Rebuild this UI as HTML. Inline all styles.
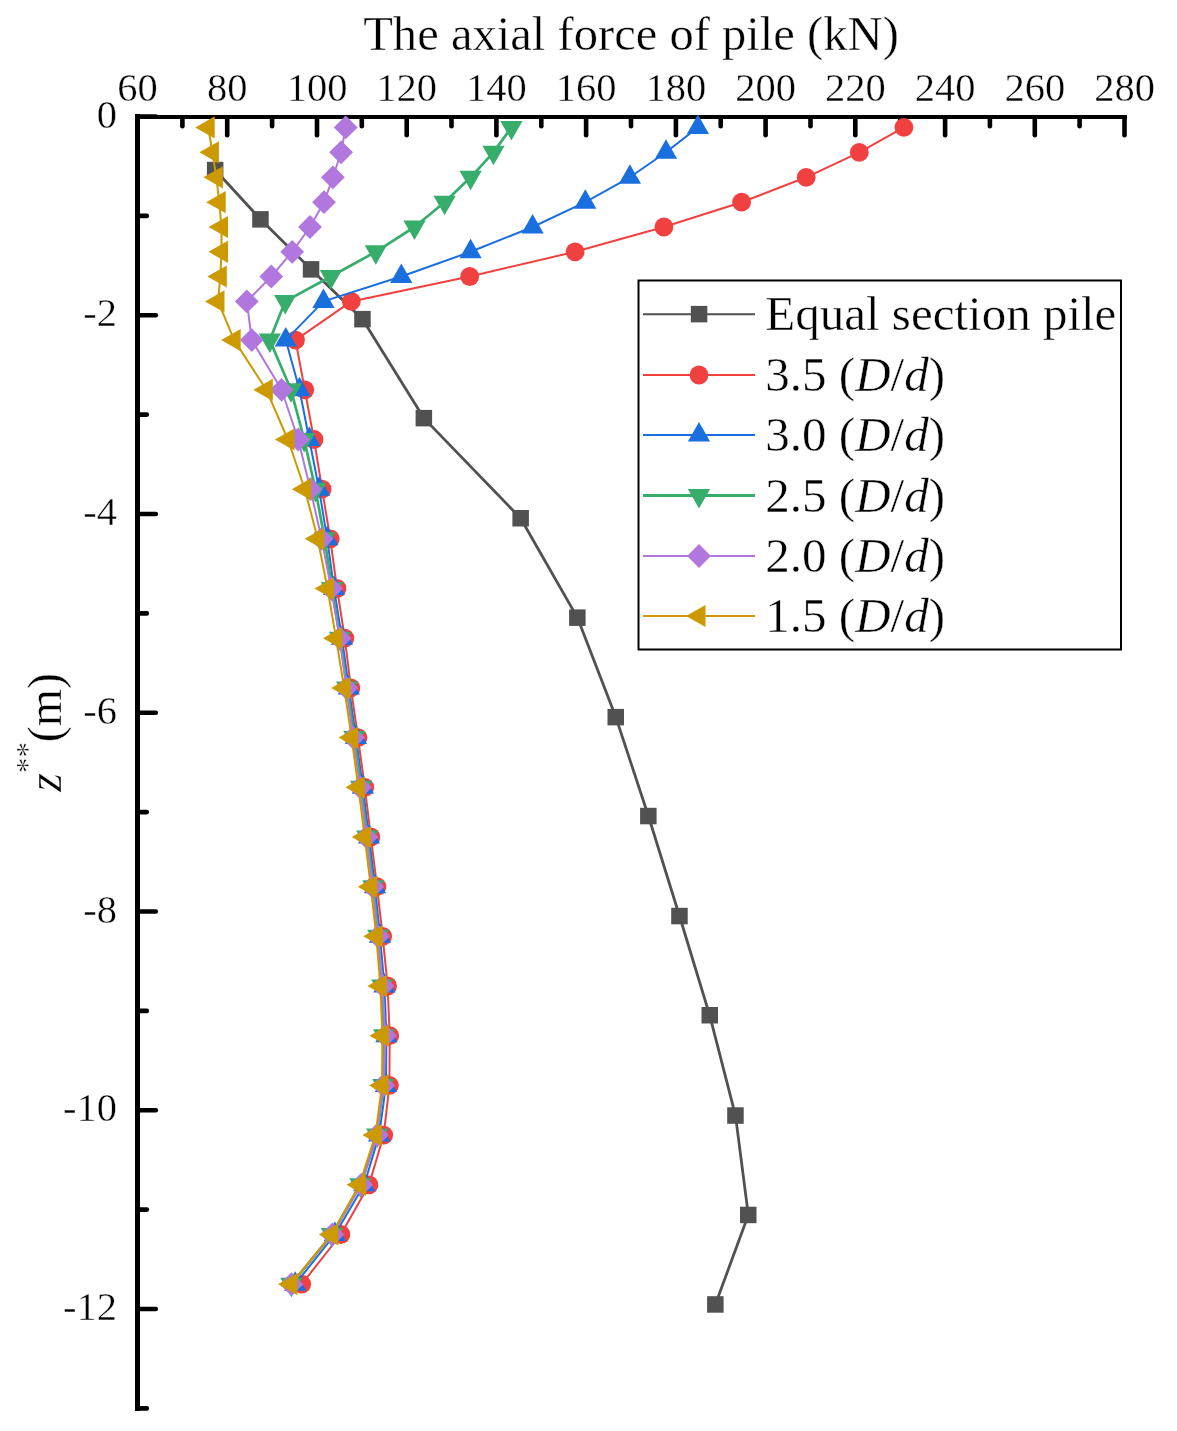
<!DOCTYPE html>
<html><head><meta charset="utf-8"><title>chart</title>
<style>html,body{margin:0;padding:0;background:#fff}svg{display:block;will-change:transform}text{font-family:"Liberation Serif",serif;fill:#000;stroke:#fff;stroke-width:0.4px}</style></head>
<body>
<svg width="1177" height="1431" viewBox="0 0 1177 1431">
<rect width="1177" height="1431" fill="#fff"/>
<g fill="#000" stroke="none">
<rect x="135" y="115" width="992" height="4"/>
<rect x="135" y="114" width="5" height="1297"/>
</g>
<g stroke="#000" stroke-width="4.6" stroke-linecap="round">
<line x1="137.5" y1="118" x2="137.5" y2="135.3"/>
<line x1="182.4" y1="118" x2="182.4" y2="126.3"/>
<line x1="227.2" y1="118" x2="227.2" y2="135.3"/>
<line x1="272.1" y1="118" x2="272.1" y2="126.3"/>
<line x1="317.0" y1="118" x2="317.0" y2="135.3"/>
<line x1="361.8" y1="118" x2="361.8" y2="126.3"/>
<line x1="406.7" y1="118" x2="406.7" y2="135.3"/>
<line x1="451.5" y1="118" x2="451.5" y2="126.3"/>
<line x1="496.4" y1="118" x2="496.4" y2="135.3"/>
<line x1="541.3" y1="118" x2="541.3" y2="126.3"/>
<line x1="586.1" y1="118" x2="586.1" y2="135.3"/>
<line x1="631.0" y1="118" x2="631.0" y2="126.3"/>
<line x1="675.9" y1="118" x2="675.9" y2="135.3"/>
<line x1="720.7" y1="118" x2="720.7" y2="126.3"/>
<line x1="765.6" y1="118" x2="765.6" y2="135.3"/>
<line x1="810.5" y1="118" x2="810.5" y2="126.3"/>
<line x1="855.3" y1="118" x2="855.3" y2="135.3"/>
<line x1="900.2" y1="118" x2="900.2" y2="126.3"/>
<line x1="945.1" y1="118" x2="945.1" y2="135.3"/>
<line x1="989.9" y1="118" x2="989.9" y2="126.3"/>
<line x1="1034.8" y1="118" x2="1034.8" y2="135.3"/>
<line x1="1079.6" y1="118" x2="1079.6" y2="126.3"/>
<line x1="1124.5" y1="118" x2="1124.5" y2="135.3"/>
<line x1="138.5" y1="116.5" x2="155.8" y2="116.5"/>
<line x1="138.5" y1="215.9" x2="146.8" y2="215.9"/>
<line x1="138.5" y1="315.2" x2="155.8" y2="315.2"/>
<line x1="138.5" y1="414.6" x2="146.8" y2="414.6"/>
<line x1="138.5" y1="514.0" x2="155.8" y2="514.0"/>
<line x1="138.5" y1="613.4" x2="146.8" y2="613.4"/>
<line x1="138.5" y1="712.8" x2="155.8" y2="712.8"/>
<line x1="138.5" y1="812.1" x2="146.8" y2="812.1"/>
<line x1="138.5" y1="911.5" x2="155.8" y2="911.5"/>
<line x1="138.5" y1="1010.9" x2="146.8" y2="1010.9"/>
<line x1="138.5" y1="1110.2" x2="155.8" y2="1110.2"/>
<line x1="138.5" y1="1209.6" x2="146.8" y2="1209.6"/>
<line x1="138.5" y1="1309.0" x2="155.8" y2="1309.0"/>
<line x1="138.5" y1="1408.4" x2="146.8" y2="1408.4"/>
</g>
<g>
<polyline fill="none" stroke="#515151" stroke-width="2.8" stroke-linejoin="round" points="215.2,170.0 260.5,219.3 311.0,269.3 362.5,319.2 423.8,418.1 520.6,518.3 577.4,617.6 615.8,717.1 648.4,816.0 679.5,916.0 709.7,1015.3 735.5,1115.6 748.3,1214.9 715.4,1304.5"/>
<rect x="206.9" y="161.8" width="16.5" height="16.5" fill="#515151"/>
<rect x="252.2" y="211.1" width="16.5" height="16.5" fill="#515151"/>
<rect x="302.8" y="261.1" width="16.5" height="16.5" fill="#515151"/>
<rect x="354.2" y="310.9" width="16.5" height="16.5" fill="#515151"/>
<rect x="415.6" y="409.9" width="16.5" height="16.5" fill="#515151"/>
<rect x="512.4" y="510.0" width="16.5" height="16.5" fill="#515151"/>
<rect x="569.1" y="609.4" width="16.5" height="16.5" fill="#515151"/>
<rect x="607.5" y="708.9" width="16.5" height="16.5" fill="#515151"/>
<rect x="640.1" y="807.8" width="16.5" height="16.5" fill="#515151"/>
<rect x="671.2" y="907.8" width="16.5" height="16.5" fill="#515151"/>
<rect x="701.5" y="1007.0" width="16.5" height="16.5" fill="#515151"/>
<rect x="727.2" y="1107.3" width="16.5" height="16.5" fill="#515151"/>
<rect x="740.0" y="1206.7" width="16.5" height="16.5" fill="#515151"/>
<rect x="707.1" y="1296.2" width="16.5" height="16.5" fill="#515151"/>
</g>
<g>
<polyline fill="none" stroke="#F14040" stroke-width="2" stroke-linejoin="round" points="903.9,127.4 859.3,152.3 806.2,177.3 741.6,202.2 663.9,227.0 575.1,251.8 469.7,276.5 351.3,301.4 295.5,340.1 304.8,389.8 314.0,439.5 322.1,489.2 330.3,538.8 337.0,588.5 344.8,638.2 350.9,687.9 358.0,737.6 364.8,787.3 370.9,837.0 377.0,886.7 382.7,936.3 387.6,986.0 389.7,1035.7 389.4,1085.4 383.7,1135.1 369.0,1184.8 340.9,1234.5 301.7,1284.2"/>
<circle cx="903.9" cy="127.4" r="9.4" fill="#F14040"/>
<circle cx="859.3" cy="152.3" r="9.4" fill="#F14040"/>
<circle cx="806.2" cy="177.3" r="9.4" fill="#F14040"/>
<circle cx="741.6" cy="202.2" r="9.4" fill="#F14040"/>
<circle cx="663.9" cy="227.0" r="9.4" fill="#F14040"/>
<circle cx="575.1" cy="251.8" r="9.4" fill="#F14040"/>
<circle cx="469.7" cy="276.5" r="9.4" fill="#F14040"/>
<circle cx="351.3" cy="301.4" r="9.4" fill="#F14040"/>
<circle cx="295.5" cy="340.1" r="9.4" fill="#F14040"/>
<circle cx="304.8" cy="389.8" r="9.4" fill="#F14040"/>
<circle cx="314.0" cy="439.5" r="9.4" fill="#F14040"/>
<circle cx="322.1" cy="489.2" r="9.4" fill="#F14040"/>
<circle cx="330.3" cy="538.8" r="9.4" fill="#F14040"/>
<circle cx="337.0" cy="588.5" r="9.4" fill="#F14040"/>
<circle cx="344.8" cy="638.2" r="9.4" fill="#F14040"/>
<circle cx="350.9" cy="687.9" r="9.4" fill="#F14040"/>
<circle cx="358.0" cy="737.6" r="9.4" fill="#F14040"/>
<circle cx="364.8" cy="787.3" r="9.4" fill="#F14040"/>
<circle cx="370.9" cy="837.0" r="9.4" fill="#F14040"/>
<circle cx="377.0" cy="886.7" r="9.4" fill="#F14040"/>
<circle cx="382.7" cy="936.3" r="9.4" fill="#F14040"/>
<circle cx="387.6" cy="986.0" r="9.4" fill="#F14040"/>
<circle cx="389.7" cy="1035.7" r="9.4" fill="#F14040"/>
<circle cx="389.4" cy="1085.4" r="9.4" fill="#F14040"/>
<circle cx="383.7" cy="1135.1" r="9.4" fill="#F14040"/>
<circle cx="369.0" cy="1184.8" r="9.4" fill="#F14040"/>
<circle cx="340.9" cy="1234.5" r="9.4" fill="#F14040"/>
<circle cx="301.7" cy="1284.2" r="9.4" fill="#F14040"/>
</g>
<g>
<polyline fill="none" stroke="#1A6FDF" stroke-width="2" stroke-linejoin="round" points="697.9,127.4 666.0,152.3 629.9,177.3 585.3,202.2 532.6,227.0 470.6,251.8 401.3,276.5 323.5,301.4 285.8,340.1 299.5,389.8 309.3,439.5 319.1,489.2 327.2,538.8 334.0,588.5 342.0,638.2 348.8,687.9 356.0,737.6 362.8,787.3 369.0,837.0 375.0,886.7 380.0,936.3 384.4,986.0 386.4,1035.7 386.0,1085.4 379.1,1135.1 364.2,1184.8 334.9,1234.5 295.2,1284.2"/>
<polygon fill="#1A6FDF" points="697.9,114.4 686.8,133.9 709.0,133.9"/>
<polygon fill="#1A6FDF" points="666.0,139.3 654.9,158.8 677.1,158.8"/>
<polygon fill="#1A6FDF" points="629.9,164.3 618.8,183.8 641.0,183.8"/>
<polygon fill="#1A6FDF" points="585.3,189.2 574.2,208.7 596.4,208.7"/>
<polygon fill="#1A6FDF" points="532.6,214.0 521.5,233.5 543.7,233.5"/>
<polygon fill="#1A6FDF" points="470.6,238.8 459.5,258.3 481.7,258.3"/>
<polygon fill="#1A6FDF" points="401.3,263.5 390.2,283.0 412.4,283.0"/>
<polygon fill="#1A6FDF" points="323.5,288.4 312.4,307.9 334.6,307.9"/>
<polygon fill="#1A6FDF" points="285.8,327.1 274.7,346.6 296.9,346.6"/>
<polygon fill="#1A6FDF" points="299.5,376.8 288.4,396.3 310.6,396.3"/>
<polygon fill="#1A6FDF" points="309.3,426.5 298.2,446.0 320.4,446.0"/>
<polygon fill="#1A6FDF" points="319.1,476.2 308.0,495.7 330.2,495.7"/>
<polygon fill="#1A6FDF" points="327.2,525.8 316.1,545.3 338.3,545.3"/>
<polygon fill="#1A6FDF" points="334.0,575.5 322.9,595.0 345.1,595.0"/>
<polygon fill="#1A6FDF" points="342.0,625.2 330.9,644.7 353.1,644.7"/>
<polygon fill="#1A6FDF" points="348.8,674.9 337.7,694.4 359.9,694.4"/>
<polygon fill="#1A6FDF" points="356.0,724.6 344.9,744.1 367.1,744.1"/>
<polygon fill="#1A6FDF" points="362.8,774.3 351.7,793.8 373.9,793.8"/>
<polygon fill="#1A6FDF" points="369.0,824.0 357.9,843.5 380.1,843.5"/>
<polygon fill="#1A6FDF" points="375.0,873.7 363.9,893.2 386.1,893.2"/>
<polygon fill="#1A6FDF" points="380.0,923.3 368.9,942.8 391.1,942.8"/>
<polygon fill="#1A6FDF" points="384.4,973.0 373.3,992.5 395.5,992.5"/>
<polygon fill="#1A6FDF" points="386.4,1022.7 375.3,1042.2 397.5,1042.2"/>
<polygon fill="#1A6FDF" points="386.0,1072.4 374.9,1091.9 397.1,1091.9"/>
<polygon fill="#1A6FDF" points="379.1,1122.1 368.0,1141.6 390.2,1141.6"/>
<polygon fill="#1A6FDF" points="364.2,1171.8 353.1,1191.3 375.4,1191.3"/>
<polygon fill="#1A6FDF" points="334.9,1221.5 323.8,1241.0 346.0,1241.0"/>
<polygon fill="#1A6FDF" points="295.2,1271.2 284.1,1290.7 306.3,1290.7"/>
</g>
<g>
<polyline fill="none" stroke="#37AD6B" stroke-width="2.7" stroke-linejoin="round" points="511.4,127.4 493.5,152.3 470.6,177.3 444.6,202.2 414.5,227.0 375.8,251.8 330.9,276.5 285.2,301.4 269.8,340.1 291.0,389.8 304.2,439.5 315.4,489.2 324.6,538.8 332.0,588.5 340.0,638.2 347.1,687.9 354.4,737.6 361.1,787.3 367.2,837.0 373.3,886.7 378.2,936.3 382.3,986.0 384.1,1035.7 383.3,1085.4 377.2,1135.1 360.4,1184.8 331.8,1234.5 291.4,1284.2"/>
<polygon fill="#37AD6B" points="511.4,140.4 500.3,120.9 522.5,120.9"/>
<polygon fill="#37AD6B" points="493.5,165.3 482.4,145.8 504.6,145.8"/>
<polygon fill="#37AD6B" points="470.6,190.3 459.5,170.8 481.7,170.8"/>
<polygon fill="#37AD6B" points="444.6,215.2 433.5,195.7 455.7,195.7"/>
<polygon fill="#37AD6B" points="414.5,240.0 403.4,220.5 425.6,220.5"/>
<polygon fill="#37AD6B" points="375.8,264.8 364.7,245.3 386.9,245.3"/>
<polygon fill="#37AD6B" points="330.9,289.5 319.8,270.0 342.0,270.0"/>
<polygon fill="#37AD6B" points="285.2,314.4 274.1,294.9 296.3,294.9"/>
<polygon fill="#37AD6B" points="269.8,353.1 258.7,333.6 280.9,333.6"/>
<polygon fill="#37AD6B" points="291.0,402.8 279.9,383.3 302.1,383.3"/>
<polygon fill="#37AD6B" points="304.2,452.5 293.1,433.0 315.3,433.0"/>
<polygon fill="#37AD6B" points="315.4,502.2 304.3,482.7 326.5,482.7"/>
<polygon fill="#37AD6B" points="324.6,551.8 313.5,532.3 335.7,532.3"/>
<polygon fill="#37AD6B" points="332.0,601.5 320.9,582.0 343.1,582.0"/>
<polygon fill="#37AD6B" points="340.0,651.2 328.9,631.7 351.1,631.7"/>
<polygon fill="#37AD6B" points="347.1,700.9 336.0,681.4 358.2,681.4"/>
<polygon fill="#37AD6B" points="354.4,750.6 343.3,731.1 365.5,731.1"/>
<polygon fill="#37AD6B" points="361.1,800.3 350.0,780.8 372.2,780.8"/>
<polygon fill="#37AD6B" points="367.2,850.0 356.1,830.5 378.3,830.5"/>
<polygon fill="#37AD6B" points="373.3,899.7 362.2,880.2 384.4,880.2"/>
<polygon fill="#37AD6B" points="378.2,949.3 367.1,929.8 389.3,929.8"/>
<polygon fill="#37AD6B" points="382.3,999.0 371.2,979.5 393.4,979.5"/>
<polygon fill="#37AD6B" points="384.1,1048.7 373.0,1029.2 395.2,1029.2"/>
<polygon fill="#37AD6B" points="383.3,1098.4 372.2,1078.9 394.4,1078.9"/>
<polygon fill="#37AD6B" points="377.2,1148.1 366.1,1128.6 388.3,1128.6"/>
<polygon fill="#37AD6B" points="360.4,1197.8 349.3,1178.3 371.6,1178.3"/>
<polygon fill="#37AD6B" points="331.8,1247.5 320.7,1228.0 342.9,1228.0"/>
<polygon fill="#37AD6B" points="291.4,1297.2 280.3,1277.7 302.5,1277.7"/>
</g>
<g>
<polyline fill="none" stroke="#B177DE" stroke-width="2" stroke-linejoin="round" points="345.7,127.4 341.1,152.3 332.9,177.3 324.0,202.2 310.0,227.0 292.2,251.8 271.3,276.5 246.8,301.4 251.8,340.1 281.6,389.8 298.2,439.5 310.4,489.2 321.6,538.8 331.1,588.5 339.7,638.2 346.4,687.9 353.1,737.6 360.1,787.3 366.4,837.0 372.5,886.7 378.0,936.3 382.7,986.0 385.2,1035.7 383.3,1085.4 377.0,1135.1 361.2,1184.8 332.4,1234.5 291.4,1284.2"/>
<polygon fill="#B177DE" points="345.7,115.5 357.6,127.4 345.7,139.3 333.8,127.4"/>
<polygon fill="#B177DE" points="341.1,140.4 353.0,152.3 341.1,164.2 329.2,152.3"/>
<polygon fill="#B177DE" points="332.9,165.4 344.8,177.3 332.9,189.2 321.0,177.3"/>
<polygon fill="#B177DE" points="324.0,190.3 335.9,202.2 324.0,214.1 312.1,202.2"/>
<polygon fill="#B177DE" points="310.0,215.1 321.9,227.0 310.0,238.9 298.1,227.0"/>
<polygon fill="#B177DE" points="292.2,239.9 304.1,251.8 292.2,263.7 280.3,251.8"/>
<polygon fill="#B177DE" points="271.3,264.6 283.2,276.5 271.3,288.4 259.4,276.5"/>
<polygon fill="#B177DE" points="246.8,289.5 258.7,301.4 246.8,313.3 234.9,301.4"/>
<polygon fill="#B177DE" points="251.8,328.2 263.7,340.1 251.8,352.0 239.9,340.1"/>
<polygon fill="#B177DE" points="281.6,377.9 293.5,389.8 281.6,401.7 269.7,389.8"/>
<polygon fill="#B177DE" points="298.2,427.6 310.1,439.5 298.2,451.4 286.3,439.5"/>
<polygon fill="#B177DE" points="310.4,477.3 322.3,489.2 310.4,501.1 298.5,489.2"/>
<polygon fill="#B177DE" points="321.6,526.9 333.5,538.8 321.6,550.7 309.7,538.8"/>
<polygon fill="#B177DE" points="331.1,576.6 343.0,588.5 331.1,600.4 319.2,588.5"/>
<polygon fill="#B177DE" points="339.7,626.3 351.6,638.2 339.7,650.1 327.8,638.2"/>
<polygon fill="#B177DE" points="346.4,676.0 358.3,687.9 346.4,699.8 334.5,687.9"/>
<polygon fill="#B177DE" points="353.1,725.7 365.0,737.6 353.1,749.5 341.2,737.6"/>
<polygon fill="#B177DE" points="360.1,775.4 372.0,787.3 360.1,799.2 348.2,787.3"/>
<polygon fill="#B177DE" points="366.4,825.1 378.3,837.0 366.4,848.9 354.5,837.0"/>
<polygon fill="#B177DE" points="372.5,874.8 384.4,886.7 372.5,898.6 360.6,886.7"/>
<polygon fill="#B177DE" points="378.0,924.4 389.9,936.3 378.0,948.2 366.1,936.3"/>
<polygon fill="#B177DE" points="382.7,974.1 394.6,986.0 382.7,997.9 370.8,986.0"/>
<polygon fill="#B177DE" points="385.2,1023.8 397.1,1035.7 385.2,1047.6 373.3,1035.7"/>
<polygon fill="#B177DE" points="383.3,1073.5 395.2,1085.4 383.3,1097.3 371.4,1085.4"/>
<polygon fill="#B177DE" points="377.0,1123.2 388.9,1135.1 377.0,1147.0 365.1,1135.1"/>
<polygon fill="#B177DE" points="361.2,1172.9 373.1,1184.8 361.2,1196.7 349.3,1184.8"/>
<polygon fill="#B177DE" points="332.4,1222.6 344.3,1234.5 332.4,1246.4 320.5,1234.5"/>
<polygon fill="#B177DE" points="291.4,1272.3 303.3,1284.2 291.4,1296.1 279.5,1284.2"/>
</g>
<g>
<polyline fill="none" stroke="#CC9900" stroke-width="2" stroke-linejoin="round" points="208.2,127.4 212.4,152.3 216.4,177.3 219.2,202.2 221.5,227.0 221.5,251.8 220.3,276.5 218.0,301.4 234.2,340.1 266.3,389.8 287.9,439.5 304.8,489.2 317.7,538.8 327.5,588.5 336.0,638.2 344.2,687.9 351.6,737.6 358.4,787.3 364.7,837.0 370.8,886.7 376.3,936.3 380.4,986.0 382.4,1035.7 382.0,1085.4 375.4,1135.1 359.5,1184.8 331.8,1234.5 291.0,1284.2"/>
<polygon fill="#CC9900" points="195.2,127.4 214.7,116.3 214.7,138.5"/>
<polygon fill="#CC9900" points="199.4,152.3 218.9,141.2 218.9,163.4"/>
<polygon fill="#CC9900" points="203.4,177.3 222.9,166.2 222.9,188.4"/>
<polygon fill="#CC9900" points="206.2,202.2 225.7,191.1 225.7,213.3"/>
<polygon fill="#CC9900" points="208.5,227.0 228.0,215.9 228.0,238.1"/>
<polygon fill="#CC9900" points="208.5,251.8 228.0,240.7 228.0,262.9"/>
<polygon fill="#CC9900" points="207.3,276.5 226.8,265.4 226.8,287.6"/>
<polygon fill="#CC9900" points="205.0,301.4 224.5,290.3 224.5,312.5"/>
<polygon fill="#CC9900" points="221.2,340.1 240.7,329.0 240.7,351.2"/>
<polygon fill="#CC9900" points="253.3,389.8 272.8,378.7 272.8,400.9"/>
<polygon fill="#CC9900" points="274.9,439.5 294.4,428.4 294.4,450.6"/>
<polygon fill="#CC9900" points="291.8,489.2 311.3,478.1 311.3,500.3"/>
<polygon fill="#CC9900" points="304.7,538.8 324.2,527.7 324.2,549.9"/>
<polygon fill="#CC9900" points="314.5,588.5 334.0,577.4 334.0,599.6"/>
<polygon fill="#CC9900" points="323.0,638.2 342.5,627.1 342.5,649.3"/>
<polygon fill="#CC9900" points="331.2,687.9 350.7,676.8 350.7,699.0"/>
<polygon fill="#CC9900" points="338.6,737.6 358.1,726.5 358.1,748.7"/>
<polygon fill="#CC9900" points="345.4,787.3 364.9,776.2 364.9,798.4"/>
<polygon fill="#CC9900" points="351.7,837.0 371.2,825.9 371.2,848.1"/>
<polygon fill="#CC9900" points="357.8,886.7 377.3,875.6 377.3,897.8"/>
<polygon fill="#CC9900" points="363.3,936.3 382.8,925.2 382.8,947.4"/>
<polygon fill="#CC9900" points="367.4,986.0 386.9,974.9 386.9,997.1"/>
<polygon fill="#CC9900" points="369.4,1035.7 388.9,1024.6 388.9,1046.8"/>
<polygon fill="#CC9900" points="369.0,1085.4 388.5,1074.3 388.5,1096.5"/>
<polygon fill="#CC9900" points="362.4,1135.1 381.9,1124.0 381.9,1146.2"/>
<polygon fill="#CC9900" points="346.5,1184.8 366.0,1173.7 366.0,1195.9"/>
<polygon fill="#CC9900" points="318.8,1234.5 338.3,1223.4 338.3,1245.6"/>
<polygon fill="#CC9900" points="278.0,1284.2 297.5,1273.1 297.5,1295.3"/>
</g>
<g font-size="40.5" text-anchor="middle">
<text x="137.5" y="101">60</text>
<text x="227.2" y="101">80</text>
<text x="317.0" y="101">100</text>
<text x="406.7" y="101">120</text>
<text x="496.4" y="101">140</text>
<text x="586.1" y="101">160</text>
<text x="675.9" y="101">180</text>
<text x="765.6" y="101">200</text>
<text x="855.3" y="101">220</text>
<text x="945.1" y="101">240</text>
<text x="1034.8" y="101">260</text>
<text x="1124.5" y="101">280</text>
</g>
<g font-size="40.5" text-anchor="end">
<text x="117" y="127.5">0</text>
<text x="117" y="326.2">-2</text>
<text x="117" y="525.0">-4</text>
<text x="117" y="723.8">-6</text>
<text x="117" y="922.5">-8</text>
<text x="117" y="1121.2">-10</text>
<text x="117" y="1320.0">-12</text>
</g>
<text x="631" y="50" font-size="48.6" text-anchor="middle">The axial force of pile (kN)</text>
<text transform="translate(60.5,791.7) rotate(-90)" font-size="48"><tspan font-style="italic">z</tspan><tspan font-size="31" dy="-22.5">**</tspan><tspan dy="22.5" dx="-0.2">(m)</tspan></text>
<rect x="638.5" y="280.5" width="482.5" height="369" fill="#fff" stroke="#000" stroke-width="2"/>
<line x1="643" y1="314.2" x2="755" y2="314.2" stroke="#515151" stroke-width="2"/>
<rect x="690.8" y="305.9" width="16.5" height="16.5" fill="#515151"/>
<text x="765.3" y="330.2" font-size="49">Equal section pile</text>
<line x1="643" y1="375.0" x2="755" y2="375.0" stroke="#F14040" stroke-width="2"/>
<circle cx="699.0" cy="375.0" r="9.4" fill="#F14040"/>
<text x="765.3" y="391.0" font-size="49">3.5 (<tspan font-style="italic">D</tspan>/<tspan font-style="italic">d</tspan>)</text>
<line x1="643" y1="435.0" x2="755" y2="435.0" stroke="#1A6FDF" stroke-width="2"/>
<polygon fill="#1A6FDF" points="699.0,422.0 687.9,441.5 710.1,441.5"/>
<text x="765.3" y="451.0" font-size="49">3.0 (<tspan font-style="italic">D</tspan>/<tspan font-style="italic">d</tspan>)</text>
<line x1="643" y1="495.5" x2="755" y2="495.5" stroke="#37AD6B" stroke-width="3"/>
<polygon fill="#37AD6B" points="699.0,508.5 687.9,489.0 710.1,489.0"/>
<text x="765.3" y="511.5" font-size="49">2.5 (<tspan font-style="italic">D</tspan>/<tspan font-style="italic">d</tspan>)</text>
<line x1="643" y1="556.0" x2="755" y2="556.0" stroke="#B177DE" stroke-width="2"/>
<polygon fill="#B177DE" points="699.0,544.1 710.9,556.0 699.0,567.9 687.1,556.0"/>
<text x="765.3" y="572.0" font-size="49">2.0 (<tspan font-style="italic">D</tspan>/<tspan font-style="italic">d</tspan>)</text>
<line x1="643" y1="616.0" x2="755" y2="616.0" stroke="#CC9900" stroke-width="2"/>
<polygon fill="#CC9900" points="686.0,616.0 705.5,604.9 705.5,627.1"/>
<text x="765.3" y="632.0" font-size="49">1.5 (<tspan font-style="italic">D</tspan>/<tspan font-style="italic">d</tspan>)</text>
</svg>
</body></html>
